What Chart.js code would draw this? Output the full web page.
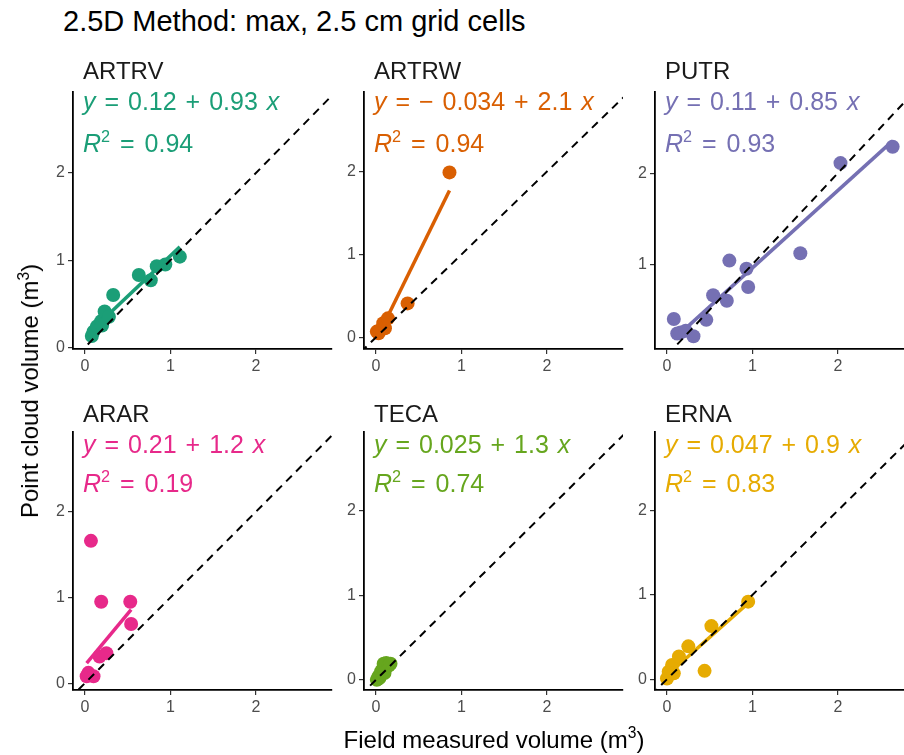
<!DOCTYPE html>
<html>
<head>
<meta charset="utf-8">
<script src="https://cdn.jsdelivr.net/npm/chart.js@4.4.0/dist/chart.umd.min.js"></script>
<style>
  html, body { margin: 0; padding: 0; background: #fff; overflow: hidden; }
  body { width: 904px; height: 755px; position: relative; font-family: "Liberation Sans", Arial, sans-serif; }
  .panel { position: absolute; }
  .txt { position: absolute; white-space: nowrap; line-height: 1; }
  .sup { font-size: 0.65em; position: relative; top: -0.6em; }
</style>
</head>
<body>
<script>
// panel names and colours (Dark2)
const panelNames = ['ARTRV', 'ARTRW', 'PUTR', 'ARAR', 'TECA', 'ERNA'];
const panelColors = ['#1B9E77', '#D95F02', '#7570B3', '#E7298A', '#66A61E', '#E6AB02'];

// fitted equations shown in each panel
const intercepts = [0.12, -0.034, 0.11, 0.21, 0.025, 0.047];
const slopes = [0.93, 2.1, 0.85, 1.2, 1.3, 0.9];
const rSquared = [0.94, 0.94, 0.93, 0.19, 0.74, 0.83];

// field measured (x) vs point cloud (y) volumes, m3
const artrvX = [0.08, 0.10, 0.14, 0.19, 0.20, 0.23, 0.28, 0.33, 0.63, 0.77, 0.84, 0.94, 1.11];
const artrvY = [0.13, 0.18, 0.24, 0.30, 0.25, 0.41, 0.35, 0.60, 0.83, 0.77, 0.93, 0.95, 1.04];
const artrwX = [0.01, 0.03, 0.05, 0.085, 0.105, 0.14, 0.37, 0.86];
const artrwY = [0.07, 0.05, 0.09, 0.17, 0.11, 0.23, 0.41, 1.99];
const putrX = [0.08, 0.12, 0.16, 0.22, 0.31, 0.46, 0.54, 0.70, 0.73, 0.93, 0.95, 1.56, 2.03, 2.64];
const putrY = [0.40, 0.24, 0.25, 0.27, 0.21, 0.39, 0.66, 0.60, 1.04, 0.95, 0.75, 1.12, 2.11, 2.29];
const ararX = [0.02, 0.04, 0.07, 0.10, 0.17, 0.19, 0.25, 0.53, 0.54];
const ararY = [0.08, 0.12, 1.66, 0.08, 0.31, 0.95, 0.35, 0.95, 0.69];
const tecaX = [0.01, 0.02, 0.03, 0.04, 0.05, 0.06, 0.08, 0.09, 0.10, 0.12, 0.15, 0.17];
const tecaY = [0.00, 0.01, 0.04, 0.02, 0.06, 0.10, 0.13, 0.19, 0.08, 0.20, 0.17, 0.19];
const ernaX = [0.00, 0.02, 0.06, 0.08, 0.14, 0.25, 0.44, 0.52, 0.95];
const ernaY = [0.01, 0.09, 0.17, 0.07, 0.27, 0.39, 0.10, 0.63, 0.92];

const allX = [artrvX, artrwX, putrX, ararX, tecaX, ernaX];
const allY = [artrvY, artrwY, putrY, ararY, tecaY, ernaY];

// axis ranges (x shared, y free)
const xMin = -0.14, xMax = 2.89;
const yMins = [-0.02, -0.14, 0.07, -0.08, -0.12, -0.127];
const yMaxs = [2.93, 2.96, 2.89, 2.93, 2.93, 2.93];
const tickValues = [0, 1, 2];

// layout
const panelLefts = [73, 364, 655];
const panelTops = [92, 432];
const panelHeights = [257, 258];
const PW = 259, YW = 50, XH = 40, PADT = 16, PADR = 16;
const stripBase = [79, 422];
const eqBase = [[110, 152], [453, 492]];

Chart.defaults.font.family = '"Liberation Sans", Arial, sans-serif';

function addText(html, left, baseline, size, color, extra) {
  const d = document.createElement('div');
  d.className = 'txt';
  d.innerHTML = html;
  d.style.left = left + 'px';
  d.style.top = (baseline - 0.847 * size) + 'px';
  d.style.fontSize = size + 'px';
  d.style.color = color;
  if (extra) Object.assign(d.style, extra);
  document.body.appendChild(d);
  return d;
}

function tickFilter(scale) {
  scale.ticks = tickValues.filter(v => v >= scale.min && v <= scale.max).map(v => ({ value: v }));
}

function axisOpts(min, max, isX) {
  return {
    type: 'linear',
    min: min,
    max: max,
    afterBuildTicks: tickFilter,
    afterFit: s => { if (isX) s.height = XH; else s.width = YW; },
    grid: { drawOnChartArea: false, color: '#333', tickLength: 5, lineWidth: 1.2 },
    border: { display: true, color: '#000', width: 1.8 },
    ticks: { color: '#4D4D4D', font: { size: 16 }, padding: 3 }
  };
}

function makePanel(i) {
  const col = i % 3, row = Math.floor(i / 3);
  const left = panelLefts[col], top = panelTops[row], ph = panelHeights[row];
  const color = panelColors[i];
  const xs = allX[i], ys = allY[i];

  const div = document.createElement('div');
  div.className = 'panel';
  div.style.left = (left - YW) + 'px';
  div.style.top = (top - PADT) + 'px';
  const canvas = document.createElement('canvas');
  canvas.width = YW + PW + PADR;
  canvas.height = PADT + ph + XH;
  div.appendChild(canvas);
  document.body.appendChild(div);

  const pts = xs.map((x, k) => ({ x: x, y: ys[k] }));
  const x0 = Math.min(...xs), x1 = Math.max(...xs);
  const fit = [x0, x1].map(x => ({ x: x, y: intercepts[i] + slopes[i] * x }));

  new Chart(canvas, {
    type: 'scatter',
    data: {
      datasets: [
        { data: [{ x: -1, y: -1 }, { x: 4, y: 4 }], showLine: true, borderColor: '#000',
          borderWidth: 2, borderDash: [8, 6], pointRadius: 0, clip: 0 },
        { data: fit, showLine: true, borderColor: color, borderWidth: 3.5, pointRadius: 0 },
        { data: pts, backgroundColor: color, borderWidth: 0, pointRadius: 7 }
      ]
    },
    options: {
      responsive: false,
      animation: false,
      devicePixelRatio: 1,
      layout: { padding: { top: PADT, right: PADR, left: 0, bottom: 0 } },
      plugins: { legend: { display: false }, tooltip: { enabled: false } },
      scales: {
        x: axisOpts(xMin, xMax, true),
        y: axisOpts(yMins[i], yMaxs[i], false)
      }
    }
  });

  // strip label and equation text
  addText(panelNames[i], left + 10, stripBase[row], 24, '#1A1A1A');
  const a = intercepts[i];
  const aTxt = a < 0 ? '\u2212 ' + String(-a) : String(a);
  addText('<i>y</i> = ' + aTxt + ' + ' + slopes[i] + ' <i>x</i>', left + 10, eqBase[row][0], 25, color, { wordSpacing: '2px' });
  addText('<i>R</i><span class="sup">2</span> = ' + rSquared[i].toFixed(2), left + 10, eqBase[row][1], 25, color, { wordSpacing: '3px' });
}

for (let i = 0; i < 6; i++) makePanel(i);

// titles
addText('2.5D Method: max, 2.5 cm grid cells', 63, 32, 29, '#000');
addText('Field measured volume (m<span class="sup">3</span>)', 494, 748, 24, '#000', { transform: 'translateX(-50%)' });
const yt = addText('Point cloud volume (m<span class="sup">3</span>)', 30, 391, 24, '#000');
yt.style.top = '391px';
yt.style.transform = 'translate(-50%, -50%) rotate(-90deg)';
</script>
</body>
</html>
